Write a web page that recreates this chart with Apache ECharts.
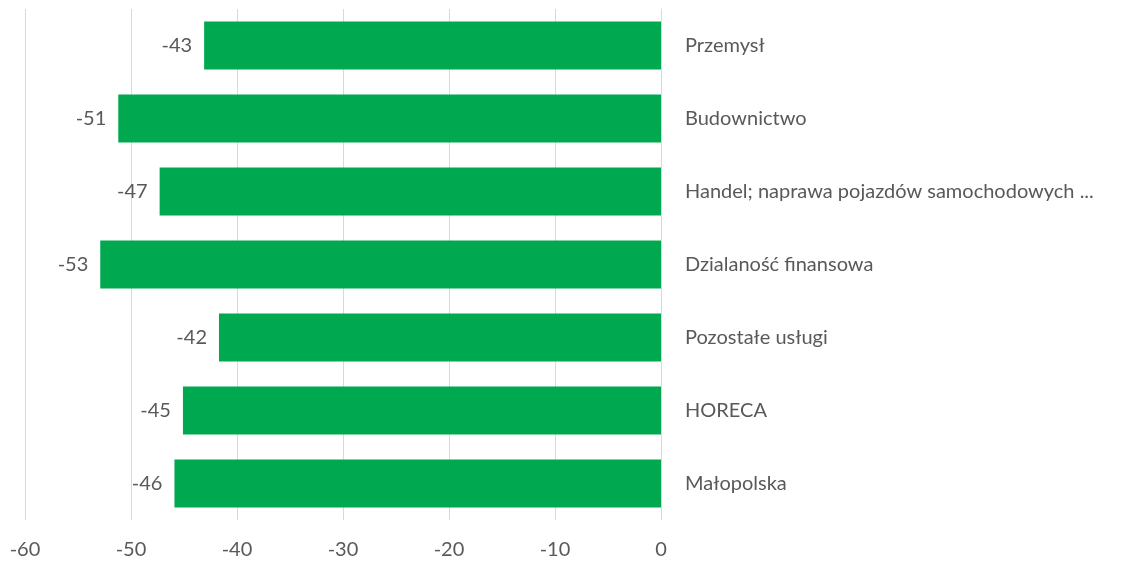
<!DOCTYPE html>
<html>
<head>
<meta charset="utf-8">
<script src="https://cdn.jsdelivr.net/npm/echarts@6/dist/echarts.min.js"></script>
<style>
  html, body { margin: 0; padding: 0; background: #fff; }
  #chart { width: 1127px; height: 562px; }
</style>
</head>
<body>
<div id="chart"></div>
<script>
// sektory, od góry do dołu
var categories = [
  "Przemysł",
  "Budownictwo",
  "Handel; naprawa pojazdów samochodowych ...",
  "Dzialaność finansowa",
  "Pozostałe usługi",
  "HORECA",
  "Małopolska"
];
var values = [-43.1, -51.2, -47.3, -52.9, -41.7, -45.1, -45.9];
var xTicks = { min: -60, max: 0, interval: 10 };

var fontName = "Lato, 'Open Sans', sans-serif";
var chart = echarts.init(document.getElementById("chart"));

chart.setOption({
  animation: false,
  grid: { left: 25, right: 466, top: 9, bottom: 42 },
  xAxis: {
    type: "value",
    min: xTicks.min,
    max: xTicks.max,
    interval: xTicks.interval,
    axisLine: { show: false },
    axisTick: { show: false },
    splitLine: { show: true, lineStyle: { color: "#d9d9d9", width: 1 } },
    axisLabel: { color: "#595959", fontSize: 20, fontFamily: fontName, margin: 20 }
  },
  yAxis: {
    type: "category",
    data: categories,
    inverse: true,
    position: "right",
    axisLine: { show: true, lineStyle: { color: "#d9d9d9" } },
    axisTick: { show: false },
    axisLabel: {
      color: "#595959",
      fontSize: 20,
      fontFamily: fontName,
      margin: 24,
      align: "left"
    }
  },
  series: [
    {
      type: "bar",
      data: values,
      barCategoryGap: "34%",
      itemStyle: { color: "#00a84f" },
      label: {
        show: true,
        position: "left",
        distance: 12,
        color: "#595959",
        fontSize: 20,
        fontFamily: fontName,
        formatter: function (p) { return Math.round(p.value); }
      }
    }
  ]
});
</script>
</body>
</html>
